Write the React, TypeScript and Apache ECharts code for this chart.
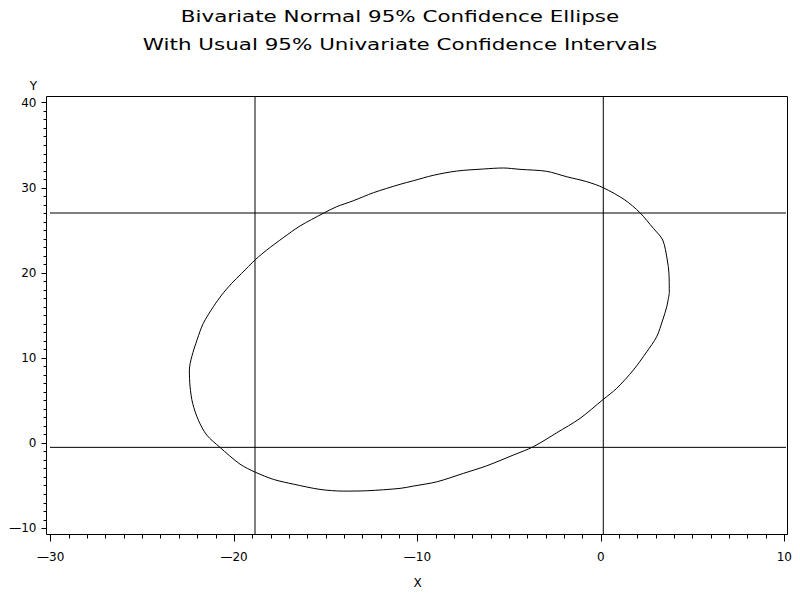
import React, { useEffect, useRef } from "react";
import * as echarts from "echarts";

const titleLines = [
  "Bivariate Normal 95% Confidence Ellipse",
  "With Usual 95% Univariate Confidence Intervals",
];
const xAxisName = "X";
const yAxisName = "Y";
const xTicks = [-30, -20, -10, 0, 10];
const yTicks = [-10, 0, 10, 20, 30, 40];

// Ellipse outline (closed loop)
const ellipseX = [
  3.73, 3.71, 3.62, 3.37, 2.86, 2.13, 1.31, 0.13, -0.77, -1.86, -2.96, -4.41, -5.32, -6.41,
  -7.86, -9.14, -10.23, -10.95, -12.41, -13.5, -14.41, -15.14, -16.41, -17.32, -18.22,
  -18.82, -19.59, -20.13, -20.68, -21.13, -21.68, -22.01, -22.31, -22.44, -22.4, -22.26, -21.95,
  -21.49, -20.77, -19.68, -18.82, -17.86, -16.77, -15.32, -14.05, -12.77, -10.95, -10.23, -8.95,
  -7.5, -6.23, -4.78, -3.69, -2.41, -1.14, 0.13, 0.86, 1.77, 2.5, 3.04, 3.37, 3.59, 3.73,
];
const ellipseY = [
  17.6, 19.95, 21.52, 23.87, 25.24, 27.07, 28.57, 30.01, 30.72, 31.3, 31.94, 32.17, 32.33, 32.21,
  31.97, 31.47, 30.83, 30.41, 29.42, 28.48, 27.78, 27.0, 25.51, 24.14, 22.69,
  21.6, 19.95, 18.78, 17.4, 16.03, 14.08, 12.2, 10.15, 8.59, 6.63, 4.68, 2.71,
  0.95, -0.49, -2.46, -3.43, -4.25, -4.81, -5.43, -5.63, -5.59, -5.31, -5.04, -4.54,
  -3.55, -2.66, -1.4, -0.42, 1.22, 2.91, 5.15, 6.44, 8.59, 10.74, 12.5, 14.47, 16.03, 17.6,
];

// Univariate confidence limits
const xLimits = [-18.86, 0.13];
const yLimits = [-0.49, 27.04];

export default function App() {
  const ref = useRef<HTMLDivElement>(null);

  useEffect(() => {
    document.body.style.margin = "0";
    if (!ref.current) return;
    const chart = echarts.init(ref.current, null, { renderer: "svg" });

    const gridLeft = 50.7;
    const gridRight = 15.7;
    const gridTop = 102.7;
    const gridBottom = 71.7;
    const frame = { x: 46.5, y: 96.5, width: 741, height: 438 };

    const xMin = xTicks[0];
    const xMax = xTicks[xTicks.length - 1];
    const yMin = yTicks[0];
    const yMax = yTicks[yTicks.length - 1];
    const plotW = 800 - gridLeft - gridRight;
    const plotH = 600 - gridTop - gridBottom;
    const pxX = plotW / (xMax - xMin);
    const pxY = plotH / (yMax - yMin);
    const fxMin = xMin - (gridLeft - frame.x) / pxX;
    const fxMax = xMax + (frame.x + frame.width - (800 - gridRight)) / pxX;
    const fyMax = yMax + (gridTop - frame.y) / pxY;
    const fyMin = yMin - (frame.y + frame.height - (600 - gridBottom)) / pxY;

    const fmt = (v: number) => (v < 0 ? "\u2014" + Math.abs(v) : String(v));
    const font = '"DejaVu Sans", sans-serif';

    const refSeries: any[] = [];
    xLimits.forEach((xv) =>
      refSeries.push({
        type: "line",
        data: [
          [xv, fyMin],
          [xv, fyMax],
        ],
        showSymbol: false,
        clip: false,
        lineStyle: { color: "#000", width: 1 },
        silent: true,
      })
    );
    yLimits.forEach((yv) =>
      refSeries.push({
        type: "line",
        data: [
          [fxMin, yv],
          [fxMax, yv],
        ],
        showSymbol: false,
        clip: false,
        lineStyle: { color: "#000", width: 1 },
        silent: true,
      })
    );

    const titleStyle = (text: string) => ({
      text,
      fill: "#000",
      font: '15px "DejaVu Sans", sans-serif',
      align: "center",
      verticalAlign: "middle",
      textAlign: "center",
      textVerticalAlign: "middle",
    });

    chart.setOption({
      animation: false,
      backgroundColor: "#fff",
      grid: { left: gridLeft, right: gridRight, top: gridTop, bottom: gridBottom },
      xAxis: {
        type: "value",
        min: xMin,
        max: xMax,
        interval: 10,
        offset: frame.y + frame.height - (600 - gridBottom),
        name: xAxisName,
        nameLocation: "middle",
        nameGap: 42,
        nameTextStyle: { color: "#000", fontSize: 12, fontFamily: font },
        axisLine: { show: false, onZero: false },
        axisTick: { show: true, length: 7, lineStyle: { color: "#000", width: 1 } },
        minorTick: { show: true, splitNumber: 10, length: 4, lineStyle: { color: "#000", width: 1 } },
        axisLabel: { color: "#000", fontSize: 12, fontFamily: font, margin: 16, formatter: fmt },
        splitLine: { show: false },
        minorSplitLine: { show: false },
      },
      yAxis: {
        type: "value",
        min: yMin,
        max: yMax,
        interval: 10,
        offset: gridLeft - frame.x,
        name: yAxisName,
        nameLocation: "end",
        nameGap: 11,
        nameTextStyle: { color: "#000", fontSize: 12, fontFamily: font, padding: [0, 26, 0, 0] },
        axisLine: { show: false, onZero: false },
        axisTick: { show: true, length: 5, lineStyle: { color: "#000", width: 1 } },
        minorTick: { show: true, splitNumber: 10, length: 3, lineStyle: { color: "#000", width: 1 } },
        axisLabel: { color: "#000", fontSize: 12, fontFamily: font, margin: 10, formatter: fmt },
        splitLine: { show: false },
        minorSplitLine: { show: false },
      },
      graphic: [
        {
          type: "rect",
          silent: true,
          z: 10,
          shape: { x: frame.x, y: frame.y, width: frame.width, height: frame.height },
          style: { fill: "none", stroke: "#000", lineWidth: 1 },
        },
        { type: "text", x: 400, y: 17, scaleX: 1.43, style: titleStyle(titleLines[0]) },
        { type: "text", x: 400, y: 45, scaleX: 1.43, style: titleStyle(titleLines[1]) },
      ],
      series: [
        {
          type: "line",
          name: "Ellipse",
          data: ellipseX.map((x, i) => [x, ellipseY[i]]),
          showSymbol: false,
          smooth: 0.3,
          lineStyle: { color: "#000", width: 1 },
          silent: true,
        },
        ...refSeries,
      ],
    });

    return () => chart.dispose();
  }, []);

  return <div ref={ref} style={{ width: 800, height: 600 }} />;
}
